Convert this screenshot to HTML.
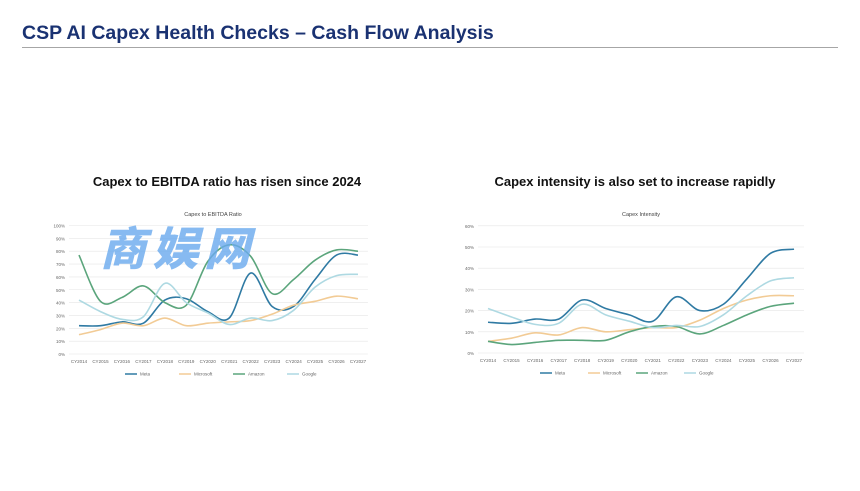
<!DOCTYPE html>
<html><head><meta charset="utf-8"><style>
html,body{margin:0;padding:0;background:#fff;width:860px;height:491px;overflow:hidden;font-family:"Liberation Sans",sans-serif}
.t{position:absolute;left:22px;top:22px;font-size:19.5px;font-weight:bold;color:#1a3272;white-space:nowrap}
.ln{position:absolute;left:22px;top:47px;width:816px;height:1px;background:#a6a6a6}
.st{position:absolute;font-size:13px;font-weight:bold;color:#111;white-space:nowrap;transform:translateX(-50%)}
.wm{position:absolute;left:100px;top:213px;font-family:"Noto Sans CJK SC",sans-serif;font-weight:900;font-size:46px;color:#6aaaee;opacity:.8;letter-spacing:6px;font-style:italic;white-space:nowrap}
svg{position:absolute;left:0;top:0}
</style></head><body>
<div class="t">CSP AI Capex Health Checks – Cash Flow Analysis</div>
<div class="ln"></div>
<div class="st" style="left:227px;top:174px">Capex to EBITDA ratio has risen since 2024</div>
<div class="st" style="left:635px;top:174px">Capex intensity is also set to increase rapidly</div>
<svg id="s" width="860" height="491" xmlns="http://www.w3.org/2000/svg"></svg>
<div class="wm">商娱网</div>
<script>
var s=document.getElementById('s'),h='';
var yrs=[];for(var i=2014;i<=2027;i++)yrs.push('CY'+i);
var cols=['#2f7aa3','#f2cb95','#5ba57c','#aed9e2'],names=['Meta','Microsoft','Amazon','Google'];
function path(p){var d='M'+p[0][0]+','+p[0][1];for(var i=0;i<p.length-1;i++){var a=p[i-1]||p[i],b=p[i],c=p[i+1],e=p[i+2]||c;
d+=' C'+(b[0]+(c[0]-a[0])/6)+','+(b[1]+(c[1]-a[1])/6)+' '+(c[0]-(e[0]-b[0])/6)+','+(c[1]-(e[1]-b[1])/6)+' '+c[0]+','+c[1];}return d;}
function chart(o){
 var g=o;h+='<text x="'+g.cx+'" y="'+g.ty+'" font-size="5.5" fill="#444" text-anchor="middle" font-family="Liberation Sans">'+g.title+'</text>';
 for(var k=0;k<=g.n;k++){var y=g.y0-k*g.dy;
  h+='<line x1="'+(g.x0-10)+'" x2="'+(g.x0+13*g.dx+10)+'" y1="'+y+'" y2="'+y+'" stroke="#e6e6e6" stroke-width="0.6"/>';
  h+='<text x="'+(g.x0-14)+'" y="'+(y+2)+'" font-size="4.5" fill="#666" text-anchor="end" font-family="Liberation Sans">'+(k*g.step)+'%</text>';}
 for(var i=0;i<14;i++)h+='<text x="'+(g.x0+i*g.dx)+'" y="'+(g.y0+9)+'" font-size="4.5" fill="#666" text-anchor="middle" font-family="Liberation Sans">'+yrs[i]+'</text>';
 for(var j=0;j<4;j++){var pts=g.d[j].map(function(v,i){return [g.x0+i*g.dx,g.y0-v/g.step*g.dy]});
  h+='<path d="'+path(pts)+'" fill="none" stroke="'+cols[j]+'" stroke-width="1.6"/>';
  var lx=g.lx+j*g.lsp;h+='<line x1="'+lx+'" x2="'+(lx+12)+'" y1="'+g.ly+'" y2="'+g.ly+'" stroke="'+cols[j]+'" stroke-width="1.5"/><text x="'+(lx+15)+'" y="'+(g.ly+1.7)+'" font-size="4.5" fill="#666" font-family="Liberation Sans">'+names[j]+'</text>';}
}
chart({cx:213,ty:216,x0:79,dx:21.46,y0:354,dy:12.85,n:10,step:10,lx:125,lsp:54,ly:374,title:'Capex to EBITDA Ratio',
 d:[[22,22,25,24,42,43,33,28,63,37,37,58,77,77],[15,19,24,22,28,22,24,25,26,31,38,41,45,43],[77,41,44,53,40,38,72,85,76,47,58,73,81,80],[42,33,27,29,55,40,32,23,28,26,34,52,61,62]]});
chart({cx:641,ty:216,x0:488,dx:23.54,y0:353,dy:21.2,n:6,step:10,lx:540,lsp:48,ly:373,title:'Capex Intensity',
 d:[[14.5,14,16,16,25,21,18,15,26.5,20,23,35,47,49],[5.5,7,9.5,8.5,12,10,11,12,12,15.5,21,25,27,27],[5.5,4,5,6,6,6,10,12.5,12.5,9,13,18,22,23.5],[21,17,13.5,14,23,18,15,12,13,12.5,18,27,34,35.5]]});
s.innerHTML=h;
</script>
</body></html>
